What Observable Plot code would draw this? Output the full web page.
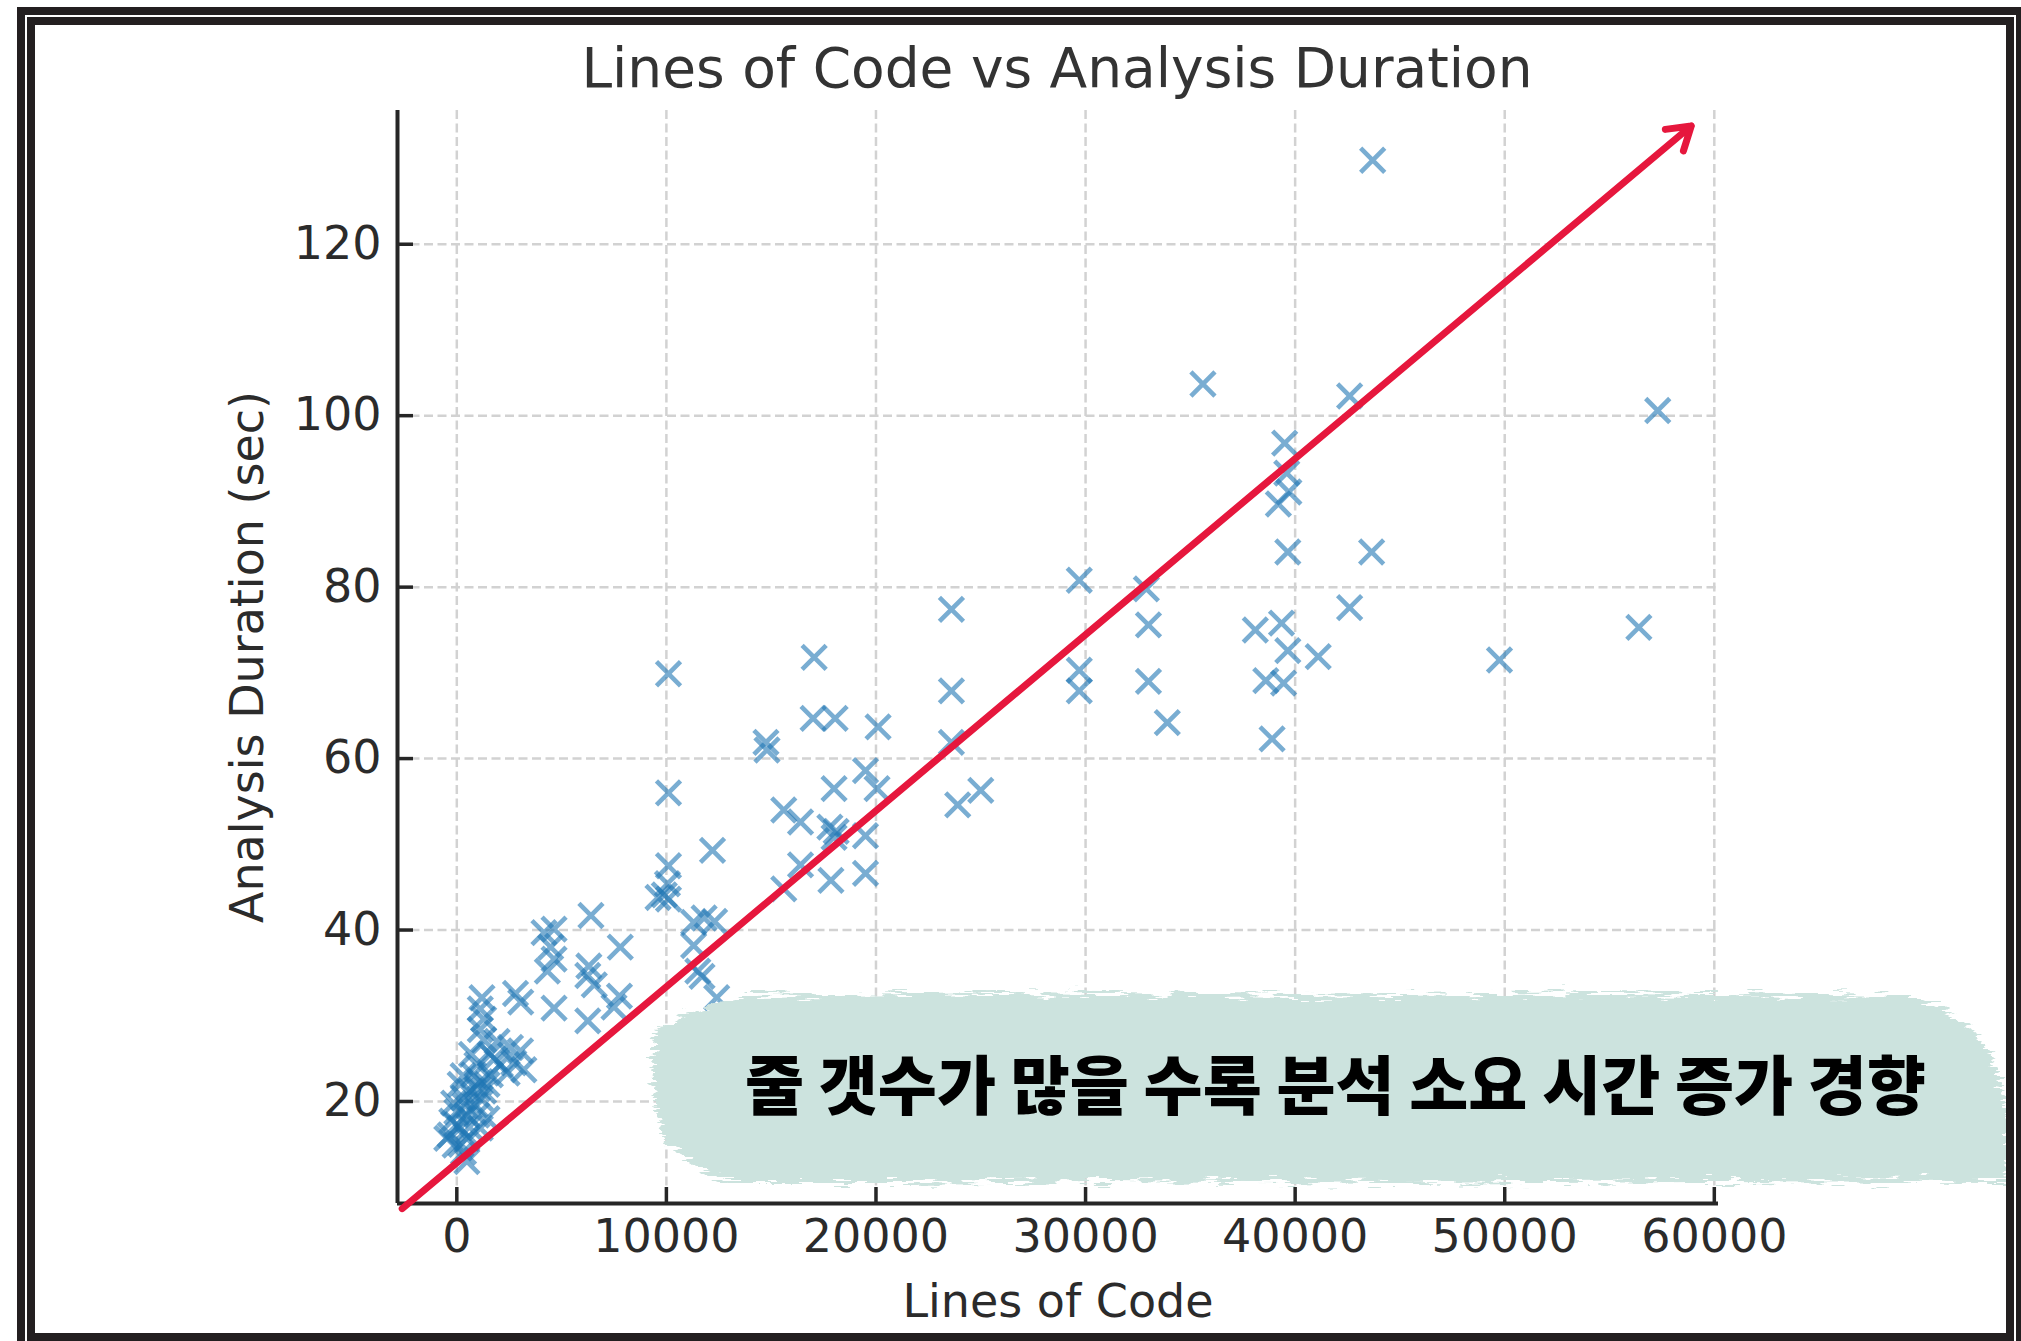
<!DOCTYPE html>
<html>
<head>
<meta charset="utf-8">
<script src="https://cdn.jsdelivr.net/npm/d3@7"></script>
<script src="https://cdn.jsdelivr.net/npm/@observablehq/plot@0.6"></script>
<style>
  html, body { margin: 0; padding: 0; background: #fff; overflow: hidden; }
  #wrap { position: relative; width: 2021px; height: 1341px; overflow: hidden; background: #fff; }
  #chart { position: absolute; left: 0; top: 0; }
  #title { position: absolute; left: 57px; top: 41px; width: 2000px; text-align: center;
           font-family: "DejaVu Sans", sans-serif; font-size: 55px; line-height: 55px; color: #333; white-space: nowrap; }
  #note { position: absolute; left: 0; top: 0; }
  .frame { position: absolute; box-sizing: border-box; border: 8px solid #231f20; }
  .outer { left: 17px; top: 7px; width: 2007px; height: 1360px; }
  .inner { left: 27px; top: 17px; width: 1987px; height: 1324px; }
</style>
</head>
<body>
<div id="wrap">
  <div id="chart"></div>
  <div id="title">Lines of Code vs Analysis Duration</div>
  <svg id="note" width="2021" height="1341" xmlns="http://www.w3.org/2000/svg">
    <defs>
      <filter id="brush" x="-5%" y="-25%" width="110%" height="150%">
        <feTurbulence type="fractalNoise" baseFrequency="0.035 0.3" numOctaves="3" seed="7" result="noise"/>
        <feDisplacementMap in="SourceGraphic" in2="noise" scale="24" xChannelSelector="R" yChannelSelector="G"/>
      </filter>
    </defs>
    <path d="M746,996 L1000,993 L1300,996 L1600,993 L1915,996 L1950,1012 L1985,1040 L2000,1080 L2008,1120 L2008,1160 L2006,1182 L1700,1181 L1400,1183 L1100,1181 L900,1183 L730,1183 L700,1170 L664,1140 L654,1100 L652,1060 L656,1030 L684,1014 L720,1002 Z"
          fill="#cce3de" filter="url(#brush)"/>
    <text x="745" y="1109" font-family="'Noto Sans CJK KR', sans-serif" font-weight="900" font-size="64"
          textLength="1181" lengthAdjust="spacingAndGlyphs" fill="#000">줄 갯수가 많을 수록 분석 소요 시간 증가 경향</text>
  </svg>
  <div class="frame outer"></div>
  <div class="frame inner"></div>
</div>
<script>
// ---- data ----
const linesOfCode = [
  43700, 35600, 42600, 57300, 39500, 39600, 39700, 39200, 39650, 43650,
  29700, 32900, 42600, 33000, 38100, 39350, 56400, 39650, 41100, 49750,
  29700, 29700, 33000, 38600, 39450, 33900, 38900, 23600, 23600, 23600,
  23900, 25000, 10100, 17050, 17000, 18050, 20100, 14750, 14800, 19500,
  20050, 18000, 10100, 15600, 16400, 17800, 18100, 18000, 19500, 16400,
  12200, 15600, 17850, 19500, 10100, 10050, 9600, 9900, 10100, 11300,
  11800, 12300, 11300, 11500, 11700, 12400, 6400, 7800, 7760, 7500,
  6300, 6250, 6560, 6250, 4160, 4640, 4480, 4640, 4320, 4640,
  2800, 3050,
  1200, 1120, 1280, 1120, 1280, 1920, 2560, 3040, 2080, 2720,
  3200, 1600, 960, 800, 1120, 1440, 640, 320, 1120, 0,
  480, -240, 160, 960, -320, 480, -80, 320, 480, 1120,
  1440, 880, 160, 1600, 1280, 0, -480, 700, 400, 200,
  -150, 600, 1000, 2400, 1800, 300
];
const durationSec = [
  129.8, 103.7, 102.3, 100.6, 96.8, 93.3, 91.1, 89.7, 84.1, 84.1,
  80.8, 79.8, 77.6, 75.6, 75.0, 75.8, 75.3, 72.6, 71.9, 71.5,
  70.3, 67.9, 69.0, 69.1, 68.8, 64.2, 62.3, 77.4, 67.9, 61.9,
  54.6, 56.3, 69.9, 71.8, 64.7, 64.7, 63.7, 61.9, 61.0, 58.6,
  56.5, 56.5, 56.0, 54.0, 52.6, 52.0, 51.5, 50.8, 51.0, 47.6,
  49.3, 44.8, 45.8, 46.6, 47.5, 45.4, 43.8, 44.1, 43.6, 40.9,
  41.4, 41.0, 38.2, 35.2, 34.6, 32.1, 41.7, 38.0, 32.3, 31.0,
  35.8, 34.7, 33.6, 29.4, 39.7, 40.1, 38.0, 36.6, 35.2, 30.9,
  32.6, 31.6,
  32.1, 30.8, 29.6, 28.4, 27.2, 27.0, 26.3, 25.9, 24.3, 24.5,
  23.7, 25.5, 24.3, 23.1, 22.3, 22.0, 21.2, 20.4, 20.4, 18.8,
  18.4, 17.7, 16.9, 18.4, 16.1, 15.7, 14.9, 14.1, 13.0, 16.9,
  18.0, 19.6, 22.0, 23.1, 21.2, 17.3, 15.7, 25.5, 19.5, 15.0,
  19.8, 17.0, 21.5, 23.3, 25.0, 23.0
];
const xTicks = [0, 10000, 20000, 30000, 40000, 50000, 60000];
const yTicks = [20, 40, 60, 80, 100, 120];
const xDomain = [-2830, 60200];
const yDomain = [8.1, 135.6];
// trend arrow, in data units
const arrowFrom = [-2605, 7.5];
const arrowTo = [58900, 133.8];

const points = linesOfCode.map((x, i) => ({loc: x, dur: durationSec[i]}));
const arrows = [{x1: arrowFrom[0], y1: arrowFrom[1], x2: arrowTo[0], y2: arrowTo[1]}];

const ink = "#262626";
const gridStyle = {stroke: "#d2d2d2", strokeOpacity: 1, strokeWidth: 2.5, strokeDasharray: "9,4.5"};

const chart = Plot.plot({
  width: 2021,
  height: 1341,
  marginLeft: 397,
  marginRight: 303,
  marginTop: 110,
  marginBottom: 138,
  style: {fontFamily: "'DejaVu Sans', sans-serif", fontSize: "46px", color: "#2b2b2b", background: "transparent", overflow: "visible"},
  x: {domain: xDomain},
  y: {domain: yDomain},
  marks: [
    Plot.gridX(xTicks, gridStyle),
    Plot.gridY(yTicks, gridStyle),
    Plot.dot(points, {x: "loc", y: "dur", symbol: "times", r: 11, fill: "none", stroke: "#1f77b4", strokeOpacity: 0.6, strokeWidth: 4.6}),
    Plot.ruleX([xDomain[0]], {stroke: ink, strokeWidth: 4}),
    Plot.ruleY([yDomain[0]], {stroke: ink, strokeWidth: 4}),
    Plot.axisX(xTicks, {tickSize: -16, tickPadding: 32, strokeWidth: 3.5, stroke: ink, tickFormat: d3.format("d"),
      label: "Lines of Code", labelAnchor: "center", labelOffset: 113, labelArrow: "none"}),
    Plot.axisY(yTicks, {tickSize: -16, tickPadding: 32, strokeWidth: 3.5, stroke: ink, tickFormat: d3.format("d"),
      label: "Analysis Duration (sec)", labelAnchor: "center", labelOffset: 167, labelArrow: "none"}),
    Plot.arrow(arrows, {x1: "x1", y1: "y1", x2: "x2", y2: "y2", stroke: "#e6173d", strokeWidth: 7,
      headLength: 5.6, headAngle: 65, strokeLinecap: "round", strokeLinejoin: "round"})
  ]
});
document.getElementById("chart").appendChild(chart);
</script>
</body>
</html>
